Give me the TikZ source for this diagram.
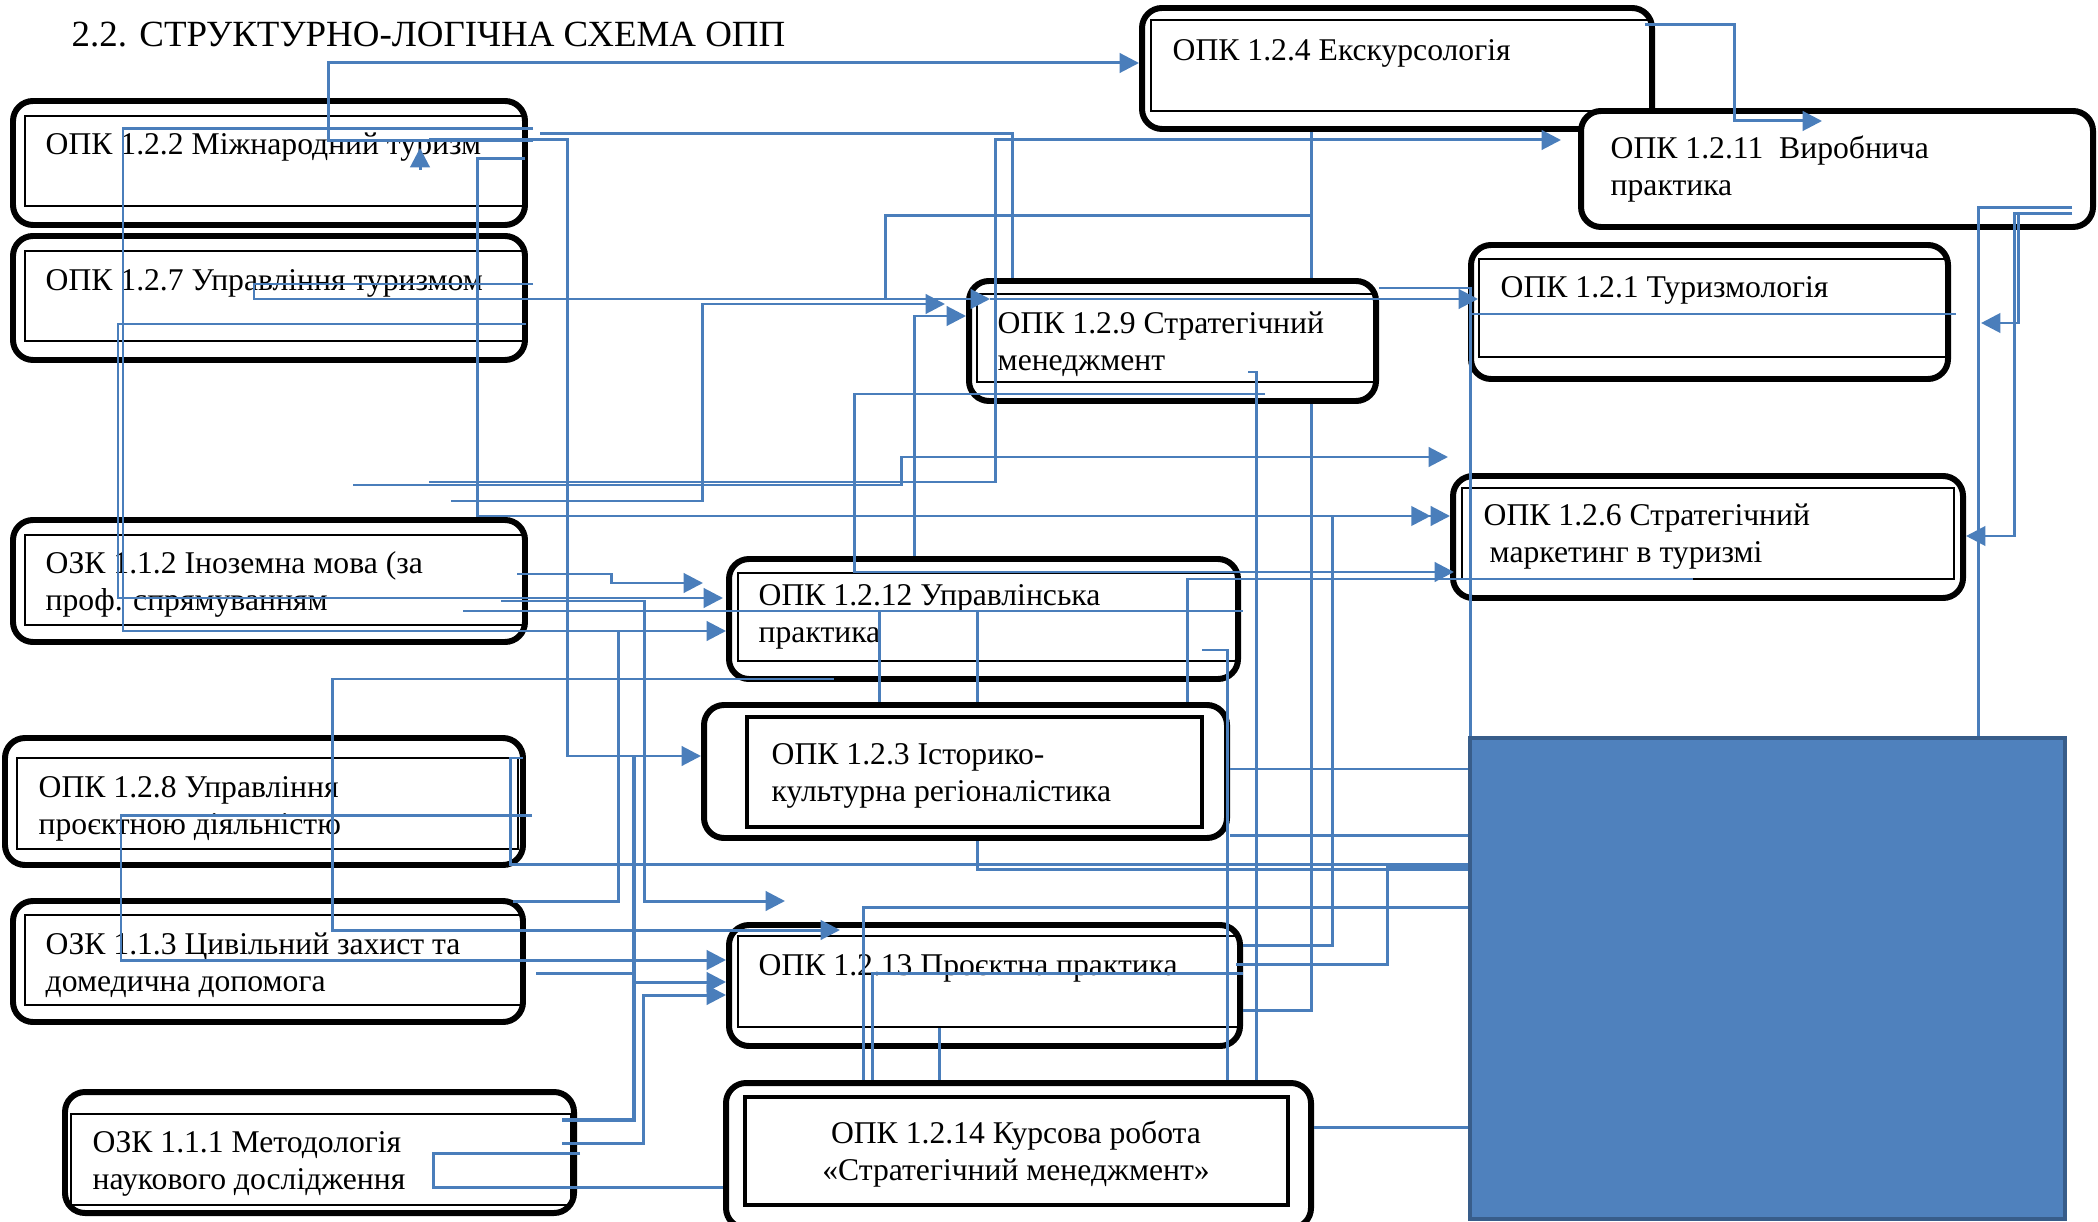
\documentclass[tikz,border=0pt]{standalone}
\usepackage{fontspec}
\setmainfont{Liberation Serif}
\usetikzlibrary{arrows.meta, fit, positioning}
\definecolor{linkblue}{RGB}{74,126,187}
\definecolor{blokfill}{RGB}{79,129,189}
\definecolor{blokedge}{RGB}{56,93,138}

\begin{document}
\begin{tikzpicture}[x=0.01cm, y=-0.01cm,
  box/.style={draw, line width=1.7pt, rounded corners=0.2cm, fill=white, inner sep=0pt},
  inbox/.style={draw, line width=0.8pt},
  thickin/.style={draw, line width=1.4pt},
  lbl/.style={anchor=west, align=left, inner sep=0pt, font=\fontsize{9}{10.5}\selectfont},
  link/.style={draw=linkblue, line width=0.85pt},
  tlink/.style={link, line width=1.2pt},
  arr/.style={link, -{Triangle[length=5.5pt,width=5.5pt]}},
  arr2/.style={link, -{Triangle[length=5.5pt,width=5.5pt] Triangle[length=5.5pt,width=5.5pt]}}]
\useasboundingbox (0,0) rectangle (2098,1222);

\node[anchor=west, inner sep=0pt, font=\fontsize{10.5}{12}\selectfont] (title) at (71,35) {2.2. СТРУКТУРНО-ЛОГІЧНА СХЕМА ОПП};

% boxes
\node[box, fit={(1142,8) (1652,129)}] (ekskurs) {};
\draw[inbox] (1151,20) rectangle (1650,111);
\node[lbl] (ekskurs-t) at (1172,53) {ОПК 1.2.4 Екскурсологія};

\node[box, fit={(1581,111) (2093,227)}] (vyrob) {};
\node[lbl] (vyrob-t) at (1610,169) {ОПК 1.2.11\ \ Виробнича\\практика};

\node[box, fit={(13,101) (525,225)}] (mizhnar) {};
\draw[inbox] (25,116) rectangle (523,206);
\node[lbl] (mizhnar-t) at (45,147) {ОПК 1.2.2 Міжнародний туризм};

\node[box, fit={(13,236) (525,360)}] (uprtur) {};
\draw[inbox] (25,251) rectangle (523,341);
\node[lbl] (uprtur-t) at (45,283) {ОПК 1.2.7 Управління туризмом};

\node[box, fit={(1471,245) (1948,379)}] (turyzm) {};
\draw[inbox] (1479,259) rectangle (1946,357);
\node[lbl] (turyzm-t) at (1500,290) {ОПК 1.2.1 Туризмологія};

\node[box, fit={(969,281) (1376,401)}] (stratmen) {};
\draw[inbox] (977,294) rectangle (1374,382);
\node[lbl] (stratmen-t) at (997,344) {ОПК 1.2.9 Стратегічний\\менеджмент};

\node[box, fit={(1453,476) (1963,598)}] (stratmark) {};
\draw[inbox] (1462,488) rectangle (1954,579);
\node[lbl] (stratmark-t) at (1483,537) {ОПК 1.2.6 Стратегічний\\\hspace*{0.06cm}маркетинг в туризмі};

\node[box, fit={(13,520) (525,642)}] (inozem) {};
\draw[inbox] (25,535) rectangle (523,625);
\node[lbl] (inozem-t) at (45,584) {ОЗК 1.1.2 Іноземна мова (за\\проф. спрямуванням};

\node[box, fit={(729,559) (1238,679)}] (uprprakt) {};
\draw[inbox] (738,573) rectangle (1236,661);
\node[lbl] (uprprakt-t) at (758,617) {ОПК 1.2.12 Управлінська\\практика};

\node[box, fit={(704,705) (1227,838)}] (istkult) {};
\draw[thickin] (747,717) rectangle (1202,827);
\node[lbl] (istkult-t) at (771,776) {ОПК 1.2.3 Історико-\\культурна регіоналістика};

\node[box, fit={(5,738) (523,865)}] (proekt) {};
\draw[inbox] (17,758) rectangle (518,849);
\node[lbl] (proekt-t) at (38,809) {ОПК 1.2.8 Управління\\проєктною діяльністю};

\node[box, fit={(13,901) (523,1022)}] (tsyvil) {};
\draw[inbox] (25,915) rectangle (521,1005);
\node[lbl] (tsyvil-t) at (45,965) {ОЗК 1.1.3 Цивільний захист та\\домедична допомога};

\node[box, fit={(729,925) (1240,1046)}] (proektpr) {};
\draw[inbox] (738,936) rectangle (1238,1027);
\node[lbl] (proektpr-t) at (758,968) {ОПК 1.2.13 Проєктна практика};

\node[box, fit={(65,1092) (574,1213)}] (metod) {};
\draw[inbox] (71,1114) rectangle (571,1205);
\node[lbl] (metod-t) at (92,1164) {ОЗК 1.1.1 Методологія\\наукового дослідження};

\node[box, fit={(726,1083) (1311,1228)}] (kursova) {};
\draw[thickin] (745,1097) rectangle (1288,1205);
\node[lbl, anchor=center, align=center] (kursova-t) at (1016,1154) {ОПК 1.2.14 Курсова робота\\«Стратегічний менеджмент»};

\node[fill=blokfill, draw=blokedge, line width=1.2pt, inner sep=0pt, fit={(1470,738) (2065,1219)}] (blok) {};

% links
\draw[tlink, arr] (533,141) -| (328,63) -- (ekskurs.west |- 0,63);
\draw[tlink, arr] (533,129) -| (123,631) -- (uprprakt.west |- 0,631);
\draw[link] (stratmen.north -| 1012,0) |- (540,134);
\draw[arr] (429,140) -| (567,756) -- (istkult.west |- 0,756);
\draw[arr] (420,170) -- (420,148);
\draw[arr2] (525,159) -| (477,516) -- (stratmark.west |- 0,516);
\draw[tlink, arr] (533,284) -| (254,299) -- (990,299);
\draw[arr] (990,299) -- (1478,299);
\draw[link] (ekskurs.south -| 1311,0) -- (stratmen.north -| 1311,0);
\draw[link] (stratmen.south -| 1311,0) |- (proektpr.east |- 0,1010);
\draw[link] (1311,216) -| (885,299);
\draw[arr] (uprprakt.north -| 914,0) |- (stratmen.west |- 0,316);
\draw[arr] (451,501) -| (702,304) -- (945,304);
\draw[arr] (353,485) -| (901,457) -- (1448,457);
\draw[arr] (429,482) -| (995,140) -- (1561,140);
\draw[arr] (1265,394) -| (854,572) -- (1454,572);
\draw[link] (istkult.north -| 1187,0) |- (1693,579);
\draw[link] (1248,372) -| (kursova.north -| 1256,0);
\draw[link] (1202,650) -| (kursova.north -| 1227,0);
\draw[link] (istkult.east |- 0,769) -- (blok.west |- 0,769);
\draw[link] (istkult.east |- 0,835) -- (blok.west |- 0,835);
\draw[link] (523,758) -| (510,864) -- (blok.west |- 0,864);
\draw[link] (istkult.south -| 977,0) |- (blok.west |- 0,869);
\draw[link] (kursova.north -| 863,0) |- (blok.west |- 0,907);
\draw[link] (kursova.north -| 872,0) |- (proektpr.east |- 0,973);
\draw[link] (939,1028) -- (kursova.north -| 939,0);
\draw[link] (proektpr.east |- 0,945) -| (1332,516);
\draw[link] (1236,964) -| (1387,866) -- (blok.west |- 0,866);
\draw[link] (kursova.east |- 0,1127) -- (blok.west |- 0,1127);
\draw[link] (stratmen.east |- 0,288) -| (blok.north -| 1470,0);
\draw[link] (1470,314) -- (1956,314);
\draw[arr] (1645,25) -| (1734,121) -- (1822,121);
\draw[link] (2072,208) -| (blok.north -| 1978,0);
\draw[arr] (2072,214) -| (2018,323) -- (1981,323);
\draw[arr] (2072,214) -| (2014,536) -- (stratmark.east |- 0,536);
\draw[tlink, arr] (526,324) -| (118,598) -- (723,598);
\draw[arr] (517,574) -| (611,583) -- (703,583);
\draw[link] (463,611) -- (1243,611);
\draw[link] (istkult.north -| 879,0) -- (879,611);
\draw[link] (istkult.north -| 977,0) -- (977,611);
\draw[arr] (501,601) -| (644,901) -- (785,901);
\draw[link] (513,901) -| (618,631);
\draw[arr] (834,679) -| (332,930) -- (840,930);
\draw[arr] (532,815) -| (121,960) -- (proektpr.west |- 0,960);
\draw[arr] (536,973) -| (633,982) -- (proektpr.west |- 0,982);
\draw[tlink] (562,1120) -| (634,756);
\draw[arr] (562,1143) -| (643,995) -- (proektpr.west |- 0,995);
\draw[link] (580,1153) -| (433,1187) -- (kursova.west |- 0,1187);
\end{tikzpicture}
\end{document}
